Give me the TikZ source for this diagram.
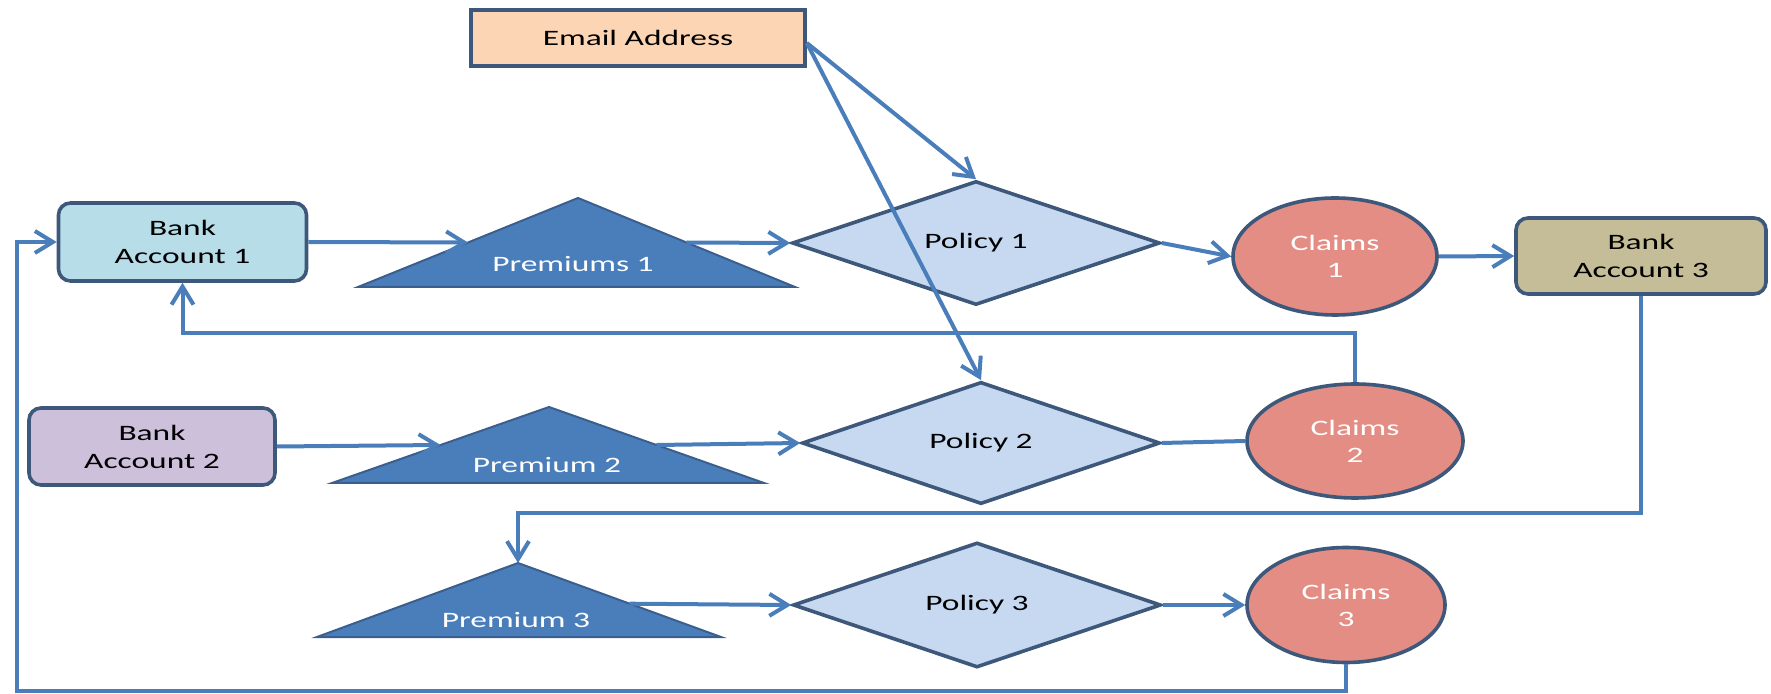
\documentclass[tikz,border=0pt]{standalone}
\usepackage{fontspec}
\setmainfont[FakeStretch=1.52]{Carlito}
\usetikzlibrary{shapes.geometric,arrows.meta,calc}

\definecolor{edge}{HTML}{3D587A}
\definecolor{flowc}{HTML}{4A7EBB}
\definecolor{trifill}{HTML}{4A7EBB}
\definecolor{triedge}{HTML}{3A5F8F}
\definecolor{emailfill}{HTML}{FCD5B4}
\definecolor{acct1fill}{HTML}{B7DDE8}
\definecolor{acct2fill}{HTML}{CCC0DA}
\definecolor{acct3fill}{HTML}{C4BD97}
\definecolor{polfill}{HTML}{C6D9F1}
\definecolor{claimfill}{HTML}{E38D85}

\begin{document}
\begin{tikzpicture}[
  x=0.5pt, y=-0.5pt,
  font=\fontsize{11}{14}\selectfont,
  box/.style={rectangle, draw=edge, line width=1.8pt, inner sep=0pt, align=center, text=black},
  acct/.style={box, rounded corners=6pt},
  policy/.style={diamond, draw=edge, line width=1.8pt, fill=polfill, inner sep=0pt, text=black},
  claim/.style={ellipse, draw=edge, line width=1.8pt, fill=claimfill, inner sep=0pt,
                align=center, text=white, font=\fontsize{11}{13.5}\selectfont},
  tri/.style={draw=triedge, line width=1pt, fill=trifill},
  trilabel/.style={inner sep=0pt, text=white},
  link/.style={draw=flowc, line width=2pt},
  flow/.style={link, -{Straight Barb[length=9pt,width=11pt]}}
]
\useasboundingbox (0,0) rectangle (1771,694);

% source of the policy details
\node[box, fill=emailfill, minimum width=167pt, minimum height=28pt] (email) at (638,38) {Email Address};

% bank accounts
\node[acct, fill=acct1fill, minimum width=124pt, minimum height=39pt] (ba1) at (182.5,242) {Bank\\Account 1};
\node[acct, fill=acct2fill, minimum width=123pt, minimum height=38.5pt] (ba2) at (152,446.5) {Bank\\Account 2};
\node[acct, fill=acct3fill, minimum width=125pt, minimum height=38pt] (ba3) at (1641,256) {Bank\\Account 3};

% premium triangles
\coordinate (t1a) at (578,198); \coordinate (t1l) at (358,287); \coordinate (t1r) at (795,287);
\coordinate (t2a) at (549,407); \coordinate (t2l) at (332,483); \coordinate (t2r) at (764,483);
\coordinate (t3a) at (518,563); \coordinate (t3l) at (317,637); \coordinate (t3r) at (721,637);
\draw[tri] (t1a) -- (t1l) -- (t1r) -- cycle;
\draw[tri] (t2a) -- (t2l) -- (t2r) -- cycle;
\draw[tri] (t3a) -- (t3l) -- (t3r) -- cycle;
\node[trilabel] (prem1) at (573,264.5) {Premiums 1};
\node[trilabel] (prem2) at (547,465) {Premium 2};
\node[trilabel] (prem3) at (516,620.5) {Premium 3};
\coordinate (t1in)  at ($(t1l)!0.5!(t1a)$);
\coordinate (t1out) at ($(t1a)!0.5!(t1r)$);
\coordinate (t2in)  at ($(t2l)!0.5!(t2a)$);
\coordinate (t2out) at ($(t2a)!0.5!(t2r)$);
\coordinate (t3out) at ($(t3a)!0.55!(t3r)$);

% policies
\node[policy, minimum width=184pt, minimum height=62pt] (pol1) at (976,243) {Policy 1};
\node[policy, minimum width=179pt, minimum height=61pt] (pol2) at (981,443) {Policy 2};
\node[policy, minimum width=184pt, minimum height=62.5pt] (pol3) at (977,605) {Policy 3};

% claims
\node[claim, minimum width=102pt, minimum height=58.5pt] (cl1) at (1335,256.5) {Claims\\1};
\node[claim, minimum width=108pt, minimum height=57pt] (cl2) at (1355,441) {Claims\\2};
\node[claim, minimum width=99pt, minimum height=57.5pt] (cl3) at (1346,605) {Claims\\3};

% routing points of the return lines
\coordinate (fb1) at (0,333);
\coordinate (fb2) at (0,513);
\coordinate (fb3) at (17,691);

% flows
\draw[flow] (ba1.east) -- (t1in);
\draw[flow] (t1out) -- (pol1.west);
\draw[flow] (pol1.east) -- (cl1.west);
\draw[flow] (cl1.east) -- (ba3.west);

\draw[flow] (ba2.east) -- (t2in);
\draw[flow] (t2out) -- (pol2.west);
\draw[link] (pol2.east) -- (cl2.west);

\draw[flow] (t3out) -- (pol3.west);
\draw[flow] (pol3.east) -- (cl3.west);

\draw[flow] ([yshift=-2.5pt]email.east) -- (pol1.north);
\draw[flow] ([yshift=-2.5pt]email.east) -- (pol2.north);

\draw[flow] (cl2.north) -- (cl2.north |- fb1) -| (ba1.south);
\draw[flow] (ba3.south) -- (ba3.south |- fb2) -| (t3a);
\draw[flow] (cl3.south) |- (fb3) |- (ba1.west);
\end{tikzpicture}
\end{document}
